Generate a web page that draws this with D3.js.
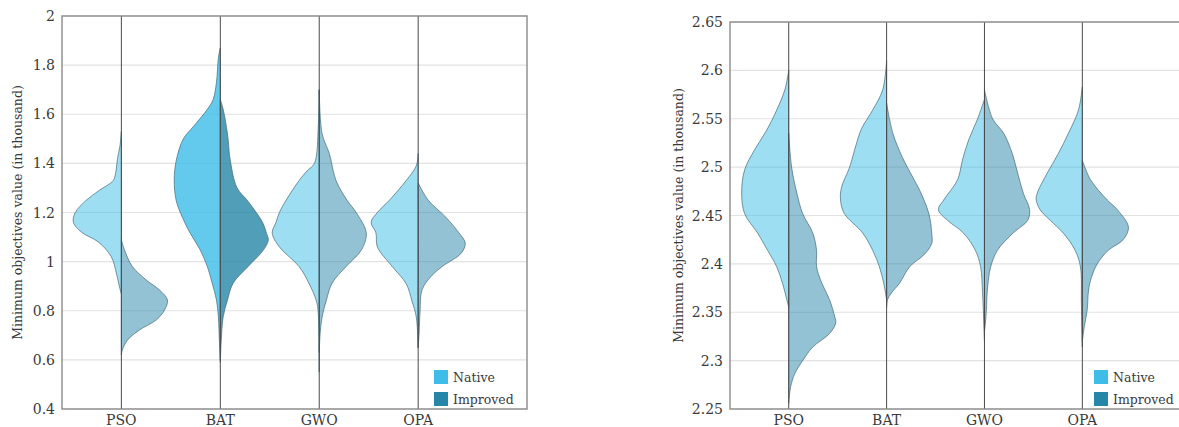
<!DOCTYPE html>
<html>
<head>
<meta charset="utf-8">
<script src="https://cdn.jsdelivr.net/npm/d3@7"></script>
<style>
    body { margin: 0; background: #ffffff; }
    svg { display: block; }
</style>
</head>
<body>
<div class="chart"></div>
<script>
const categories = ["PSO", "BAT", "GWO", "OPA"];
const seriesNames = ["Native", "Improved"];

const leftTicks = [0.4, 0.6, 0.8, 1, 1.2, 1.4, 1.6, 1.8, 2];
const rightTicks = [2.25, 2.3, 2.35, 2.4, 2.45, 2.5, 2.55, 2.6, 2.65];

// [value (thousand), relative density]
const leftPsoNative = [[1.53, 0], [1.47, 0.03], [1.42, 0.08], [1.36, 0.12], [1.33, 0.17], [1.29, 0.46], [1.25, 0.73], [1.2, 0.96], [1.16, 1], [1.12, 0.83], [1.08, 0.48], [1.02, 0.21], [0.95, 0.1], [0.89, 0.03], [0.87, 0]];
const leftPsoImproved = [[1.09, 0], [1.05, 0.06], [0.98, 0.23], [0.925, 0.52], [0.885, 0.79], [0.844, 0.96], [0.803, 0.9], [0.763, 0.73], [0.722, 0.38], [0.681, 0.13], [0.64, 0.02], [0.62, 0]];
const leftBatNative = [[1.87, 0], [1.83, 0.04], [1.73, 0.08], [1.66, 0.15], [1.62, 0.27], [1.55, 0.56], [1.5, 0.77], [1.41, 0.92], [1.33, 0.96], [1.25, 0.92], [1.18, 0.79], [1.117, 0.63], [1.048, 0.42], [0.98, 0.27], [0.913, 0.17], [0.844, 0.08], [0.775, 0.04], [0.68, 0.02], [0.6, 0]];
const leftBatImproved = [[1.66, 0], [1.62, 0.06], [1.52, 0.15], [1.41, 0.21], [1.3, 0.35], [1.25, 0.56], [1.2, 0.75], [1.16, 0.88], [1.117, 0.96], [1.088, 1], [1.048, 0.9], [0.98, 0.58], [0.913, 0.27], [0.844, 0.15], [0.775, 0.06], [0.68, 0.02], [0.59, 0]];
const leftGwoNative = [[1.7, 0], [1.55, 0.02], [1.4, 0.1], [1.37, 0.25], [1.33, 0.42], [1.25, 0.69], [1.2, 0.83], [1.16, 0.9], [1.117, 0.98], [1.06, 0.83], [0.98, 0.42], [0.91, 0.21], [0.84, 0.06], [0.79, 0.02], [0.55, 0]];
const leftGwoImproved = [[1.7, 0], [1.52, 0.06], [1.44, 0.21], [1.33, 0.35], [1.25, 0.58], [1.2, 0.77], [1.117, 0.98], [1.048, 0.88], [0.98, 0.56], [0.913, 0.27], [0.844, 0.15], [0.775, 0.06], [0.71, 0.02], [0.63, 0]];
const leftOpaNative = [[1.44, 0], [1.39, 0.04], [1.33, 0.25], [1.25, 0.6], [1.2, 0.85], [1.16, 0.98], [1.117, 0.88], [1.06, 0.85], [0.98, 0.54], [0.91, 0.25], [0.84, 0.13], [0.775, 0.04], [0.65, 0]];
const leftOpaImproved = [[1.32, 0], [1.25, 0.21], [1.18, 0.58], [1.117, 0.85], [1.076, 0.98], [1.035, 0.9], [0.98, 0.5], [0.94, 0.27], [0.885, 0.08], [0.8, 0.04], [0.71, 0.02], [0.65, 0]];

const rightPsoNative = [[2.6, 0], [2.58, 0.08], [2.559, 0.25], [2.538, 0.46], [2.518, 0.71], [2.497, 0.92], [2.473, 0.98], [2.452, 0.92], [2.432, 0.65], [2.414, 0.44], [2.397, 0.25], [2.38, 0.13], [2.363, 0.04], [2.355, 0]];
const rightPsoImproved = [[2.535, 0], [2.5, 0.06], [2.473, 0.17], [2.452, 0.29], [2.432, 0.5], [2.414, 0.58], [2.397, 0.58], [2.38, 0.69], [2.363, 0.85], [2.345, 0.96], [2.339, 0.98], [2.328, 0.85], [2.314, 0.5], [2.3, 0.29], [2.287, 0.13], [2.273, 0.04], [2.256, 0]];
const rightBatNative = [[2.61, 0], [2.58, 0.08], [2.559, 0.29], [2.54, 0.52], [2.524, 0.63], [2.5, 0.77], [2.479, 0.94], [2.466, 0.96], [2.452, 0.88], [2.432, 0.5], [2.414, 0.29], [2.397, 0.15], [2.38, 0.06], [2.363, 0]];
const rightBatImproved = [[2.566, 0], [2.535, 0.13], [2.51, 0.33], [2.49, 0.54], [2.476, 0.69], [2.452, 0.88], [2.432, 0.94], [2.421, 0.94], [2.41, 0.79], [2.397, 0.48], [2.38, 0.27], [2.37, 0.1], [2.363, 0.02], [2.355, 0]];
const rightGwoNative = [[2.57, 0], [2.549, 0.15], [2.528, 0.33], [2.507, 0.46], [2.487, 0.56], [2.466, 0.85], [2.456, 0.96], [2.445, 0.77], [2.432, 0.44], [2.414, 0.19], [2.397, 0.08], [2.37, 0.04], [2.32, 0]];
const rightGwoImproved = [[2.58, 0], [2.55, 0.17], [2.535, 0.4], [2.514, 0.58], [2.494, 0.69], [2.473, 0.81], [2.456, 0.94], [2.445, 0.9], [2.432, 0.6], [2.414, 0.27], [2.397, 0.13], [2.373, 0.06], [2.352, 0.04], [2.339, 0.02], [2.33, 0]];
const rightOpaNative = [[2.583, 0], [2.559, 0.08], [2.535, 0.29], [2.514, 0.5], [2.494, 0.73], [2.473, 0.94], [2.466, 0.96], [2.456, 0.88], [2.445, 0.67], [2.432, 0.4], [2.414, 0.15], [2.397, 0.04], [2.36, 0.02], [2.314, 0]];
const rightOpaImproved = [[2.507, 0], [2.487, 0.17], [2.466, 0.52], [2.456, 0.73], [2.438, 0.96], [2.425, 0.85], [2.414, 0.54], [2.4, 0.31], [2.386, 0.19], [2.373, 0.13], [2.352, 0.1], [2.335, 0.04], [2.32, 0]];

const leftNative = [leftPsoNative, leftBatNative, leftGwoNative, leftOpaNative];
const leftImproved = [leftPsoImproved, leftBatImproved, leftGwoImproved, leftOpaImproved];
const rightNative = [rightPsoNative, rightBatNative, rightGwoNative, rightOpaNative];
const rightImproved = [rightPsoImproved, rightBatImproved, rightGwoImproved, rightOpaImproved];

const nativeColor = "#3dbde8";
const improvedColor = "#2586a8";
const axisLabel = "Minimum objectives value (in thousand)";
const fontFamily = "'DejaVu Serif', 'Liberation Serif', serif";

const svg = d3.select(".chart")
    .append("svg")
    .attr("width", 1179)
    .attr("height", 427)
    .attr("font-family", fontFamily);

function drawPanel(conf) {
    const scale_x = d3.scaleLinear()
        .domain([-0.6, 4.1])
        .range([conf.left, conf.right]);

    const scale_y = d3.scaleLinear()
        .domain([conf.ticks[0], conf.ticks[conf.ticks.length - 1]])
        .range([conf.bottom, conf.top]);

    const scale_w = d3.scaleLinear()
        .domain([0, 1])
        .range([0, 48]);

    const g = svg.append("g");

    // grid
    g.append("g")
        .selectAll("line")
        .data(conf.ticks)
        .join("line")
        .attr("x1", conf.left)
        .attr("x2", conf.right)
        .attr("y1", d => scale_y(d))
        .attr("y2", d => scale_y(d))
        .attr("stroke", "#e2e2e2")
        .attr("stroke-width", 1.2);

    // violins, native to the left and improved to the right
    const halves = [];
    categories.forEach((cat, i) => {
        halves.push({ i: i, side: -1, data: conf.native[i], color: nativeColor, opacity: conf.opacity[i] });
        halves.push({ i: i, side: 1, data: conf.improved[i], color: improvedColor, opacity: conf.opacity[i] });
    });

    g.append("g")
        .selectAll("path")
        .data(halves)
        .join("path")
        .attr("d", h => d3.area()
            .curve(d3.curveCatmullRom.alpha(0.5))
            .y(d => scale_y(d[0]))
            .x0(scale_x(h.i))
            .x1(d => scale_x(h.i) + h.side * scale_w(d[1]))(h.data))
        .attr("fill", h => h.color)
        .attr("fill-opacity", h => h.opacity)
        .attr("stroke", "#3f6575")
        .attr("stroke-opacity", 0.85)
        .attr("stroke-width", 0.8);

    // center lines
    g.append("g")
        .selectAll("line")
        .data(categories)
        .join("line")
        .attr("x1", (d, i) => scale_x(i))
        .attr("x2", (d, i) => scale_x(i))
        .attr("y1", conf.top)
        .attr("y2", conf.bottom)
        .attr("stroke", "#4a4a4a")
        .attr("stroke-width", 1);

    // frame
    g.append("rect")
        .attr("x", conf.left)
        .attr("y", conf.top)
        .attr("width", conf.right - conf.left)
        .attr("height", conf.bottom - conf.top)
        .attr("fill", "none")
        .attr("stroke", "#8a8a8a")
        .attr("stroke-width", 1.4);

    // y tick labels
    g.append("g")
        .selectAll("text")
        .data(conf.ticks)
        .join("text")
        .text(d => String(d))
        .attr("x", conf.left - 7)
        .attr("y", d => scale_y(d) + 5)
        .attr("text-anchor", "end")
        .attr("font-size", 14)
        .attr("fill", "#3a3a3a");

    // category labels
    g.append("g")
        .selectAll("text")
        .data(categories)
        .join("text")
        .text(d => d)
        .attr("x", (d, i) => scale_x(i))
        .attr("y", 425)
        .attr("text-anchor", "middle")
        .attr("font-size", 14)
        .attr("fill", "#3a3a3a");

    g.append("text")
        .text(axisLabel)
        .attr("transform", `translate(${conf.labelX},${(conf.top + conf.bottom) / 2}) rotate(-90)`)
        .attr("text-anchor", "middle")
        .attr("dy", "0.35em")
        .attr("font-size", 12.5)
        .attr("fill", "#3a3a3a");

    // legend
    const legend = g.append("g")
        .attr("transform", `translate(${conf.legendX},370)`);

    legend.selectAll("rect")
        .data(seriesNames)
        .join("rect")
        .attr("x", 0)
        .attr("y", (d, i) => i * 22)
        .attr("width", 14)
        .attr("height", 14)
        .attr("fill", (d, i) => i === 0 ? nativeColor : improvedColor);

    legend.selectAll("text")
        .data(seriesNames)
        .join("text")
        .text(d => d)
        .attr("x", 19)
        .attr("y", (d, i) => i * 22 + 12)
        .attr("font-size", 12.5)
        .attr("fill", "#3a3a3a");
}

drawPanel({
    left: 62, right: 527, top: 16, bottom: 409,
    ticks: leftTicks, native: leftNative, improved: leftImproved,
    opacity: [0.5, 0.8, 0.5, 0.5],
    labelX: 18, legendX: 434
});

drawPanel({
    left: 730, right: 1190, top: 22, bottom: 409,
    ticks: rightTicks, native: rightNative, improved: rightImproved,
    opacity: [0.5, 0.5, 0.5, 0.5],
    labelX: 679, legendX: 1094
});
</script>
</body>
</html>
